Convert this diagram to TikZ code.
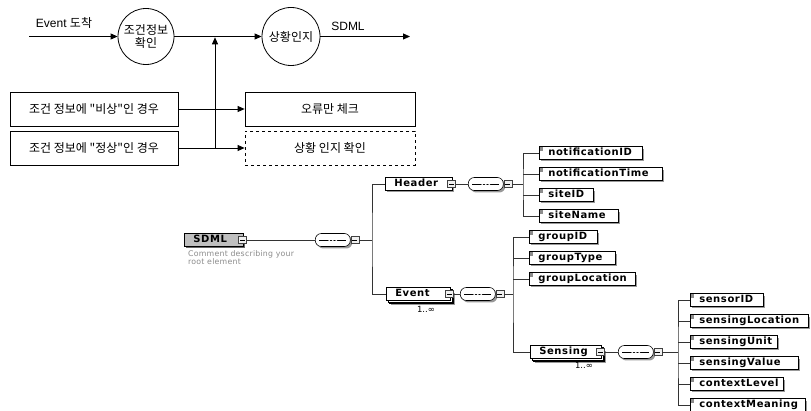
\documentclass[tikz,border=0pt]{standalone}
\usepackage{fontspec}
\usetikzlibrary{arrows.meta,shadows,calc}
\newfontfamily\cjk{Noto Sans CJK KR}
\newfontfamily\lsans{Liberation Sans}
\newfontfamily\treefont[LetterSpace=6]{DejaVu Sans}
\newfontfamily\notefont[LetterSpace=3]{DejaVu Sans}
\newfontfamily\occfont{DejaVu Sans}
% label set flush left in a box of fixed width (box width minus padding)
\newcommand\fixw[2]{\makebox[\dimexpr#1pt-10pt\relax][l]{\hspace*{4pt}#2}}

\begin{document}
\begin{tikzpicture}[x=1pt,y=-1pt,
  % flow chart
  flow/.style={line width=0.8pt,-{Triangle[length=7pt,width=6pt]}},
  proc/.style={circle,draw,line width=0.8pt,minimum size=56pt,inner sep=0pt,
    font=\cjk\fontsize{12}{13}\selectfont,align=center},
  cond/.style={draw,line width=0.8pt,minimum width=168pt,minimum height=34pt,
    inner sep=0pt,font=\cjk\fontsize{12}{14}\selectfont},
  lbl/.style={inner sep=0pt,font=\fontsize{12}{14}\selectfont},
  % schema tree
  tree/.style={draw=black!80,line width=0.6pt},
  elembase/.style={draw=black,line width=0.6pt,fill=white,anchor=west,
    font=\treefont\bfseries\fontsize{10}{11}\selectfont,
    text height=7.3pt,text depth=2pt,inner xsep=5pt,inner ysep=1.8pt},
  elem/.style={elembase,drop shadow={shadow xshift=2pt,shadow yshift=-2pt,fill=black!40,opacity=1}},
  leaf/.style={elem,path picture={\fill[black!45] (path picture bounding box.north west) rectangle ++(4pt,-4pt);}},
  multi/.style={elembase,
    drop shadow={shadow xshift=5pt,shadow yshift=-5pt,fill=black!40,opacity=1},
    double copy shadow={shadow xshift=1.5pt,shadow yshift=-1.5pt}},
  rootel/.style={elembase,fill=black!25,
    drop shadow={shadow xshift=2pt,shadow yshift=-2pt,fill=black!60,opacity=1}},
  expd/.style={draw=black!75,fill=black!6,line width=0.5pt,minimum width=8pt,
    minimum height=7pt,inner sep=0pt,
    path picture={\draw[black,line width=0.6pt]
      ($(path picture bounding box.west)+(1.6pt,0)$) -- ($(path picture bounding box.east)+(-1.6pt,0)$);}},
  seq/.style={draw=black,line width=0.6pt,fill=white,rounded corners=6pt,
    minimum width=35pt,minimum height=13pt,inner sep=0pt,anchor=west,
    drop shadow={shadow xshift=2pt,shadow yshift=-2pt,fill=black!40,opacity=1},
    path picture={
      \draw[line width=0.6pt] ($(path picture bounding box.west)+(4pt,0)$) -- ($(path picture bounding box.east)+(-4pt,0)$);
      \foreach \d in {-3.5,0,3.5} \fill ($(path picture bounding box.center)+(\d pt,0)$) circle (1.1pt);}},
  occ/.style={inner sep=0pt,font=\occfont\fontsize{8.5}{9}\selectfont},
  note/.style={inner sep=0pt,text=black!45,align=left,font=\notefont\fontsize{7.8}{8.3}\selectfont}
]
\fill[white] (0,0) rectangle (811,411);
\useasboundingbox (0,0) rectangle (811,411);

% ---------- event handling flow ----------
\node[proc] (c1) at (146,36.5) {조건정보\\확인};
\node[proc,minimum size=58pt] (c2) at (291,36.5) {상황인지};
\coordinate (in) at (29,36.5);
\coordinate (out) at (410,36.5);
\node[lbl] (evlbl) at (64,23) {\lsans Event \cjk 도착};
\node[lbl] (sdlbl) at (348,26) {\lsans SDML};
\draw[flow] (in) -- (c1);
\draw[flow] (c1) -- (c2);
\draw[flow] (c2) -- (out);

\node[cond] (b1) at (94,109) {조건 정보에 "비상"인 경우};
\node[cond] (b2) at (94,148) {조건 정보에 "정상"인 경우};
\node[cond,minimum width=170pt] (b3) at (330,109) {오류만 체크};
\node[cond,minimum width=170pt,dashed] (b4) at (330,148) {상황 인지 확인};
\coordinate (split) at (215,148);
\coordinate (merge) at (215,37.3);
\draw[flow] (b1) -- (b3);
\draw[flow] (b2) -- (b4);
\draw[flow] (split) -- (merge);

% ---------- SDML schema tree ----------
\node[rootel] (sdml) at (184,240) {\fixw{59}{SDML}};
\node[expd] (sdmlx) at ($(sdml.east)+(-1,0)$) {};
\node[note,anchor=north west] (cmt) at (188,250) {Comment describing your\\root element};
\node[seq] (s0) at (315,240) {};
\node[expd,anchor=west] (s0x) at (s0.east) {};
\coordinate (bus0) at (372,240);
\draw[tree] (sdmlx) -- (s0);
\draw[tree] (s0x) -- (bus0);

% Header
\node[elem] (hdr) at (385,184) {\fixw{67}{Header}};
\node[expd] (hdrx) at ($(hdr.east)+(-1,0)$) {};
\node[seq] (s1) at (468,184) {};
\node[expd,anchor=west] (s1x) at (s1.east) {};
\coordinate (bus1) at (523,184);
\draw[tree] (hdrx) -- (s1);
\draw[tree] (s1x) -- (bus1);
\node[leaf] (n1) at (539,153) {\fixw{103}{notificationID}};
\node[leaf] (n2) at (539,174) {\fixw{123}{notificationTime}};
\node[leaf] (n3) at (539,195) {\fixw{54}{siteID}};
\node[leaf] (n4) at (539,216) {\fixw{79}{siteName}};
\draw[tree] (n1.west) -| (bus1) |- (n4.west);
\draw[tree] (bus1 |- n2.west) -- (n2.west);
\draw[tree] (bus1 |- n3.west) -- (n3.west);

% Event
\node[multi] (evt) at (386,294) {\fixw{64}{Event}};
\node[expd] (evtx) at ($(evt.east)+(-1,0)$) {};
\node[occ] (evtocc) at (426,309) {1..∞};
\node[seq] (s2) at (460,294) {};
\node[expd,anchor=west] (s2x) at (s2.east) {};
\coordinate (bus2) at (513,294);
\draw[tree] (evtx) -- (s2);
\draw[tree] (s2x) -- (bus2);
\node[leaf] (g1) at (529,237) {\fixw{68}{groupID}};
\node[leaf] (g2) at (529,258) {\fixw{86}{groupType}};
\node[leaf] (g3) at (529,279) {\fixw{106}{groupLocation}};
\draw[tree] (bus2 |- g2.west) -- (g2.west);
\draw[tree] (bus2 |- g3.west) -- (g3.west);

\draw[tree] (hdr.west) -| (bus0) |- (evt.west);

% Sensing
\node[multi] (sen) at (530,352) {\fixw{71}{Sensing}};
\node[expd] (senx) at ($(sen.east)+(-1,0)$) {};
\node[occ] (senocc) at (584,365) {1..∞};
\node[seq] (s3) at (618,352) {};
\node[expd,anchor=west] (s3x) at (s3.east) {};
\coordinate (bus3) at (678,352);
\draw[tree] (senx) -- (s3);
\draw[tree] (s3x) -- (bus3);
\draw[tree] (g1.west) -| (bus2) |- (sen.west);
\node[leaf] (m1) at (690,300) {\fixw{73}{sensorID}};
\node[leaf] (m2) at (690,321) {\fixw{118}{sensingLocation}};
\node[leaf] (m3) at (690,342) {\fixw{87}{sensingUnit}};
\node[leaf] (m4) at (690,363) {\fixw{108}{sensingValue}};
\node[leaf] (m5) at (690,384) {\fixw{93}{contextLevel}};
\node[leaf] (m6) at (690,405) {\fixw{115}{contextMeaning}};
\draw[tree] (m1.west) -| (bus3) |- (m6.west);
\foreach \m in {m2,m3,m4,m5} \draw[tree] (bus3 |- \m.west) -- (\m.west);
\end{tikzpicture}
\end{document}
